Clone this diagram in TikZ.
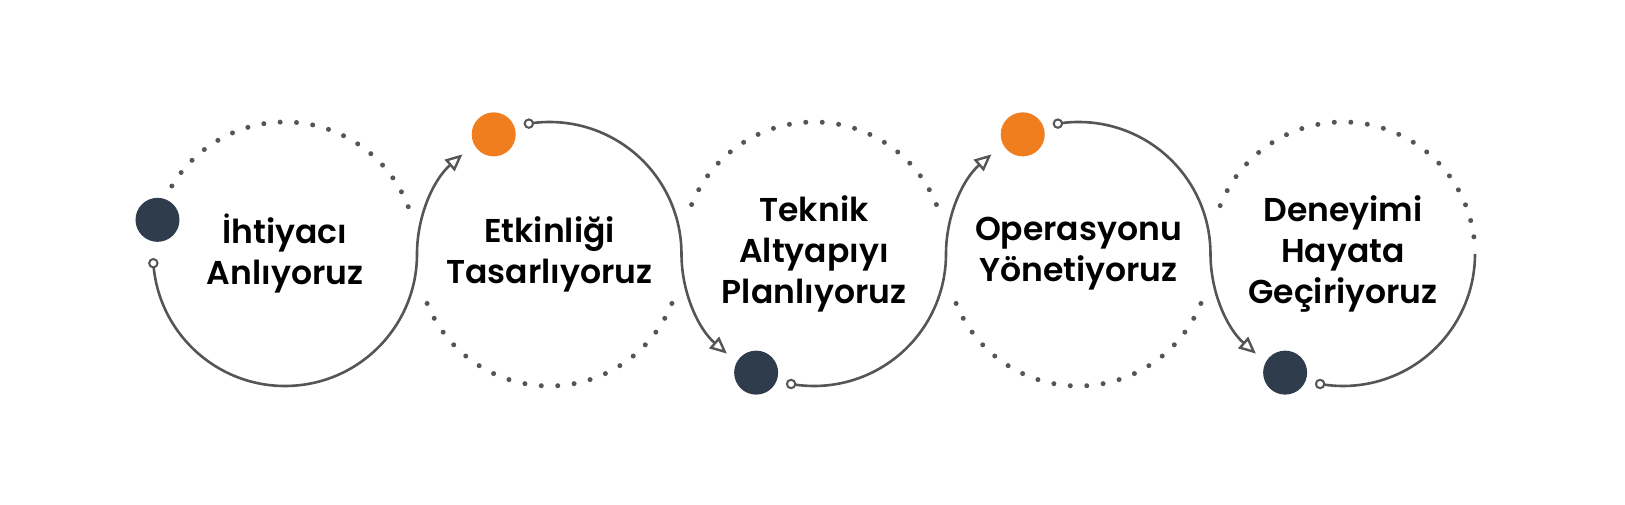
\documentclass[tikz,border=0pt]{standalone}
\usepackage{fontspec}
\setmainfont{Poppins}[BoldFont={Poppins SemiBold}]
\usetikzlibrary{arrows.meta,calc}
\definecolor{lineg}{HTML}{555555}
\definecolor{darkdot}{HTML}{2F3C4B}
\definecolor{orangedot}{HTML}{F07E1F}
\tikzset{
  conn/.style={draw=lineg,line width=2.6pt,-{Triangle[open,length=17pt,width=15pt,line width=2.4pt]}},
  plainconn/.style={draw=lineg,line width=2.6pt},
  startring/.style={draw=lineg,fill=white,line width=2pt},
  lbl/.style={align=center,font=\bfseries\fontsize{33}{41}\selectfont,text=black},
}
\begin{document}
\begin{tikzpicture}[x=1pt,y=1pt]
\useasboundingbox (0,0) rectangle (1625,505);
\def\R{132}
\coordinate (c1) at (285,251);
\coordinate (c2) at (549.5,251);
\coordinate (c3) at (814,251);
\coordinate (c4) at (1078.5,251);
\coordinate (c5) at (1343,251);
% dotted arcs
\foreach \i in {0,...,18} \fill[lineg] ($(c1)+({149-\i*128/18}:\R)$) circle (2.5);
\foreach \i in {0,...,19} \fill[lineg] ($(c2)+({202+\i*136/19}:\R)$) circle (2.5);
\foreach \i in {0,...,19} \fill[lineg] ($(c3)+({158-\i*136/19}:\R)$) circle (2.5);
\foreach \i in {0,...,19} \fill[lineg] ($(c4)+({202+\i*136/19}:\R)$) circle (2.5);
\foreach \i in {0,...,21} \fill[lineg] ($(c5)+({158.5-\i*151/21}:\R)$) circle (2.5);
% connectors
\coordinate (s1) at ($(c1)+(184:\R)$);
\coordinate (s2) at ($(c2)+(99:\R)$);
\coordinate (s3) at ($(c3)+(260:\R)$);
\coordinate (s4) at ($(c4)+(99:\R)$);
\coordinate (s5) at ($(c5)+(260:\R)$);
\draw[conn] (s1) arc[start angle=184,end angle=360,radius=\R] arc[start angle=180,end angle=131,radius=\R];
\draw[conn] (s2) arc[start angle=99,end angle=0,radius=\R] arc[start angle=180,end angle=229,radius=\R];
\draw[conn] (s3) arc[start angle=260,end angle=360,radius=\R] arc[start angle=180,end angle=131,radius=\R];
\draw[conn] (s4) arc[start angle=99,end angle=0,radius=\R] arc[start angle=180,end angle=229,radius=\R];
\draw[plainconn] (s5) arc[start angle=260,end angle=360,radius=\R];
\foreach \s in {s1,s2,s3,s4,s5} \draw[startring] (\s) circle (4.2);
% big dots
\fill[darkdot] ($(c1)+(165:\R)$) circle (22);
\fill[orangedot] ($(c2)+(115:\R)$) circle (22);
\fill[darkdot] ($(c3)+(244:\R)$) circle (22);
\fill[orangedot] ($(c4)+(115:\R)$) circle (22);
\fill[darkdot] ($(c5)+(244:\R)$) circle (22);
% labels
\node[lbl] (t1) at (c1) {İhtiyacı\\Anlıyoruz};
\node[lbl] (t2) at (c2) {Etkinliği\\Tasarlıyoruz};
\node[lbl] (t3) at (c3) {Teknik\\Altyapıyı\\Planlıyoruz};
\node[lbl] (t4) at (c4) {Operasyonu\\Yönetiyoruz};
\node[lbl] (t5) at (c5) {Deneyimi\\Hayata\\Geçiriyoruz};
\end{tikzpicture}
\end{document}
